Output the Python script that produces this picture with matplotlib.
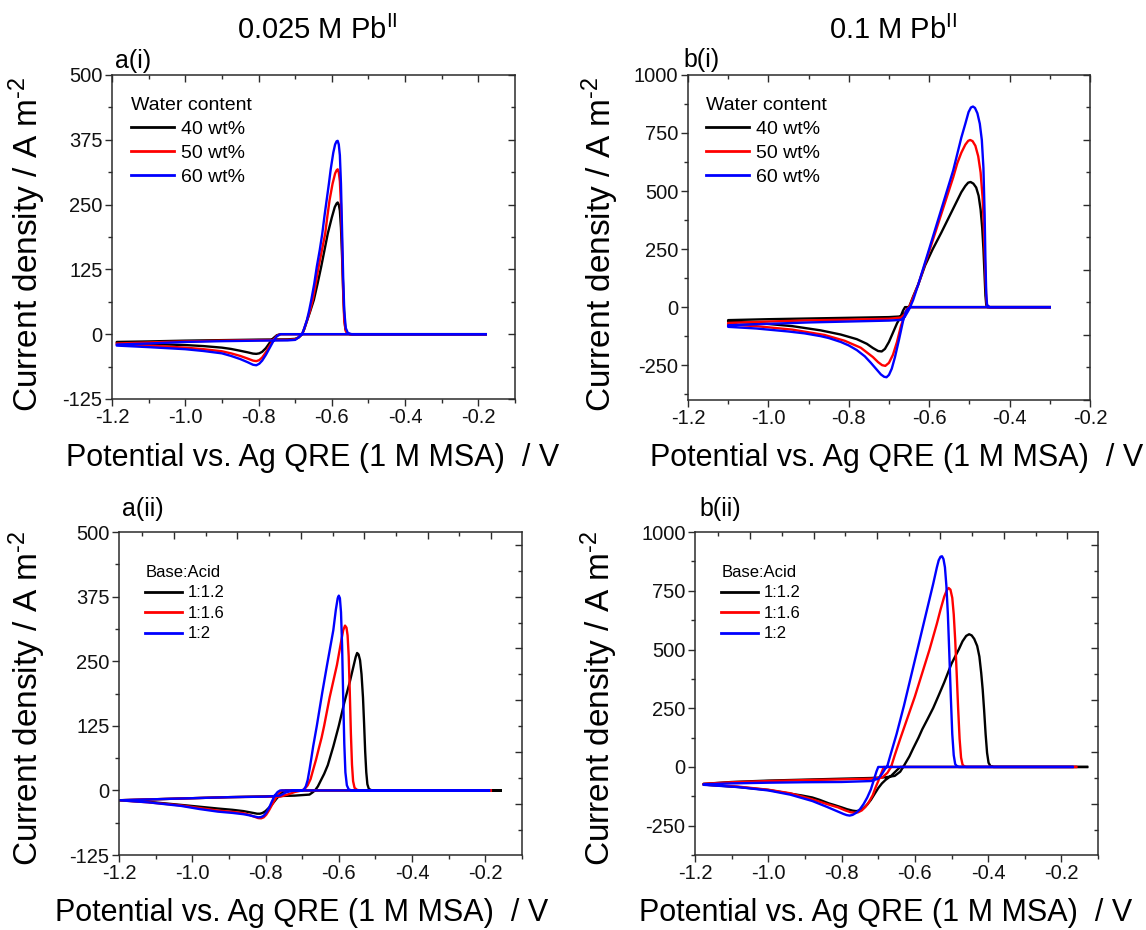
import numpy as np
import matplotlib.pyplot as plt
from matplotlib.ticker import MultipleLocator

plt.rcParams['font.family'] = ['Liberation Sans', 'DejaVu Sans']
plt.rcParams['mathtext.fontset'] = 'custom'
plt.rcParams['mathtext.rm'] = 'Liberation Sans'
plt.rcParams['mathtext.it'] = 'Liberation Sans:italic'
plt.rcParams['mathtext.bf'] = 'Liberation Sans:bold'
plt.rcParams['mathtext.default'] = 'regular'
plt.rcParams['axes.unicode_minus'] = False

# ---- data: potential (V) and current density (A m-2), in scan order ----

# a(i) 0.025 M Pb, water content
ai_E_40 = [-0.18, -0.74, -0.75, -0.76, -0.77, -0.78, -0.79, -0.798, -0.806, -0.815, -0.83, -0.85, -0.875,
           -0.90, -0.95, -1.00, -1.10, -1.187,
           -1.187, -1.10, -1.00, -0.90, -0.80, -0.72, -0.70, -0.69, -0.681, -0.675, -0.668, -0.659, -0.649,
           -0.639, -0.629, -0.62, -0.611, -0.60, -0.592, -0.587, -0.584, -0.581, -0.578, -0.575, -0.572,
           -0.569, -0.566, -0.563, -0.558, -0.55, -0.18]
ai_j_40 = [0, 0, -2, -8, -17, -27, -34, -37, -38, -37.5, -35, -32, -28.5,
           -26, -23, -21, -19, -17,
           -15, -14, -12.5, -11.5, -10.5, -10, -9, -6, 0, 10, 25, 44, 66,
           97, 130, 162, 194, 225, 245, 252, 254, 250, 238, 205, 150,
           85, 35, 10, 2, 0, 0]
ai_E_50 = [-0.18, -0.74, -0.75, -0.76, -0.77, -0.78, -0.79, -0.798, -0.806, -0.815, -0.83, -0.85, -0.875,
           -0.90, -0.95, -1.00, -1.10, -1.187,
           -1.187, -1.10, -1.00, -0.90, -0.80, -0.72, -0.70, -0.69, -0.681, -0.675, -0.668, -0.66, -0.652,
           -0.644, -0.636, -0.627, -0.618, -0.612, -0.606, -0.598, -0.591, -0.587, -0.584, -0.581, -0.578,
           -0.575, -0.572, -0.569, -0.566, -0.562, -0.556, -0.55, -0.18]
ai_j_50 = [0, 0, -3, -12, -23, -35, -45, -50, -52, -51, -47, -42, -37,
           -33, -29, -26, -22, -20,
           -18, -16, -14, -12.5, -11.5, -11, -10, -6, 0, 11, 26, 44, 66,
           97, 130, 162, 194, 228, 259, 290, 310, 316, 318, 312, 295,
           250, 170, 80, 25, 6, 1, 0, 0]
ai_E_60 = [-0.18, -0.74, -0.75, -0.76, -0.77, -0.78, -0.79, -0.798, -0.806, -0.815, -0.83, -0.85, -0.875,
           -0.90, -0.95, -1.00, -1.10, -1.187,
           -1.187, -1.10, -1.00, -0.90, -0.80, -0.72, -0.70, -0.69, -0.681, -0.675, -0.668, -0.662, -0.656,
           -0.648, -0.641, -0.633, -0.626, -0.62, -0.614, -0.608, -0.603, -0.596, -0.591, -0.587, -0.584,
           -0.581, -0.578, -0.575, -0.572, -0.569, -0.566, -0.562, -0.556, -0.546, -0.18]
ai_j_60 = [0, 0, -4, -14, -27, -40, -51, -57, -60, -59, -54, -48, -42,
           -37, -32.5, -29, -25, -22,
           -20, -18, -15, -13.5, -12.5, -12, -11, -6, 0, 12, 27, 45, 66,
           97, 130, 162, 194, 228, 259, 290, 318, 350, 366, 372, 373,
           366, 345, 290, 200, 110, 45, 12, 2, 0, 0]

# b(i) 0.1 M Pb, water content
bi_E_40 = [-0.30, -0.66, -0.665, -0.672, -0.68, -0.69, -0.70, -0.71, -0.718, -0.727, -0.74, -0.755, -0.78,
           -0.82, -0.87, -0.94, -1.03, -1.10,
           -1.10, -1.00, -0.90, -0.80, -0.70, -0.67, -0.66, -0.65, -0.64, -0.627, -0.61, -0.591, -0.57,
           -0.55, -0.53, -0.52, -0.51, -0.503, -0.497, -0.49, -0.483, -0.477, -0.472, -0.468, -0.465,
           -0.462, -0.46, -0.458, -0.455, -0.30]
bi_j_40 = [0, 0, -15, -45, -70, -110, -150, -180, -191, -189, -176, -158, -138,
           -118, -100, -82, -68, -62,
           -56, -52, -49, -46, -43, -40, -25, 0, 45, 98, 180, 250, 320,
           390, 460, 495, 522, 536, 539, 532, 515, 480, 420, 340, 250,
           130, 50, 10, 0, 0]
bi_E_50 = [-0.30, -0.65, -0.656, -0.662, -0.67, -0.68, -0.69, -0.70, -0.709, -0.717, -0.727, -0.74, -0.77,
           -0.81, -0.86, -0.94, -1.03, -1.10,
           -1.10, -1.00, -0.90, -0.80, -0.70, -0.67, -0.655, -0.645, -0.627, -0.60, -0.57, -0.54, -0.53,
           -0.52, -0.51, -0.503, -0.498, -0.492, -0.485, -0.478, -0.472, -0.467, -0.463, -0.46, -0.458,
           -0.456, -0.45, -0.30]
bi_j_50 = [0, 0, -10, -40, -80, -150, -205, -240, -253, -250, -237, -215, -175,
           -145, -120, -97, -82, -75,
           -68, -62, -57, -54, -50, -45, -20, 20, 98, 240, 400, 560, 620,
           665, 700, 716, 720, 715, 695, 650, 580, 470, 300, 130, 40,
           5, 0, 0]
bi_E_60 = [-0.30, -0.645, -0.652, -0.658, -0.665, -0.675, -0.685, -0.693, -0.70, -0.706, -0.712, -0.72,
           -0.73, -0.745, -0.76, -0.78, -0.80, -0.82, -0.85, -0.87, -0.91, -0.95, -1.03, -1.10,
           -1.10, -1.00, -0.90, -0.80, -0.70, -0.67, -0.66, -0.65, -0.64, -0.627, -0.60, -0.57, -0.54,
           -0.53, -0.52, -0.51, -0.502, -0.496, -0.491, -0.486, -0.48, -0.474, -0.469, -0.465, -0.462,
           -0.46, -0.458, -0.456, -0.45, -0.30]
bi_j_60 = [0, 0, -5, -20, -60, -140, -215, -265, -292, -302, -300, -290,
           -270, -240, -212, -185, -165, -150, -133, -125, -113, -105, -92, -85,
           -78, -72, -66, -62, -58, -55, -40, -10, 30, 98, 250, 420, 590,
           660, 730, 790, 840, 860, 864, 858, 835, 790, 720, 600, 400,
           200, 60, 10, 0, 0]

# a(ii) 0.025 M Pb, base:acid ratio
aii_E_12 = [-0.158, -0.745, -0.752, -0.76, -0.77, -0.78, -0.79, -0.80, -0.808, -0.815, -0.823, -0.83, -0.845,
            -0.86, -0.89, -0.93, -0.98, -1.03, -1.12, -1.20,
            -1.20, -1.10, -1.00, -0.90, -0.80, -0.72, -0.68, -0.672, -0.665, -0.657, -0.65, -0.64, -0.63,
            -0.615, -0.60, -0.585, -0.57, -0.56, -0.554, -0.55, -0.546, -0.542, -0.538, -0.534, -0.531,
            -0.528, -0.525, -0.522, -0.518, -0.51, -0.158]
aii_j_12 = [0, 0, -3, -8, -16, -25, -33, -40, -43.5, -45, -45, -44, -42,
            -40, -37.5, -35, -31.5, -28, -22, -19,
            -19, -17, -15, -13, -11.5, -10, -8, -4, 0, 8, 18, 32, 49,
            85, 125, 170, 210, 240, 258, 266, 263, 252, 225, 180, 130,
            75, 35, 12, 3, 0, 0]
aii_E_16 = [-0.185, -0.755, -0.762, -0.77, -0.78, -0.79, -0.798, -0.805, -0.812, -0.82, -0.83, -0.845,
            -0.86, -0.89, -0.93, -0.98, -1.03, -1.12, -1.20,
            -1.20, -1.10, -1.00, -0.90, -0.80, -0.76, -0.74, -0.72, -0.70, -0.692, -0.685, -0.677, -0.67,
            -0.662, -0.655, -0.647, -0.64, -0.625, -0.605, -0.595, -0.588, -0.583, -0.579, -0.576, -0.573,
            -0.57, -0.567, -0.564, -0.561, -0.557, -0.55, -0.54, -0.185]
aii_j_16 = [0, 0, -4, -12, -25, -38, -47, -52, -54, -53.5, -51, -47,
            -44, -41.5, -39, -34, -29, -23, -19,
            -19, -17, -15, -13, -12, -12, -8, -3, 0, 4, 10, 22, 40,
            60, 80, 102, 125, 180, 243, 283, 310, 319, 315, 300, 260,
            190, 110, 50, 18, 5, 1, 0, 0]
aii_E_20 = [-0.19, -0.76, -0.767, -0.775, -0.783, -0.79, -0.798, -0.805, -0.812, -0.82, -0.83, -0.845,
            -0.86, -0.89, -0.93, -0.98, -1.03, -1.12, -1.20,
            -1.20, -1.10, -1.00, -0.90, -0.80, -0.76, -0.745, -0.73, -0.70, -0.695, -0.69, -0.685, -0.68,
            -0.675, -0.67, -0.66, -0.645, -0.632, -0.615, -0.608, -0.603, -0.600, -0.597, -0.594, -0.591,
            -0.588, -0.585, -0.582, -0.578, -0.573, -0.565, -0.19]
aii_j_20 = [0, 0, -3, -10, -22, -33, -43, -49, -51.5, -52, -50.5, -48,
            -46, -43.5, -41, -36, -30, -23, -19,
            -19, -17, -15, -13, -12, -10, -4, -1, 0, 2, 8, 20, 40,
            62, 85, 125, 190, 243, 310, 350, 372, 377, 372, 345, 280,
            180, 90, 35, 10, 2, 0, 0]

# b(ii) 0.1 M Pb, base:acid ratio
bii_E_12 = [-0.13, -0.64, -0.65, -0.665, -0.68, -0.69, -0.70, -0.71, -0.72, -0.73, -0.74, -0.75, -0.76,
            -0.77, -0.785, -0.80, -0.82, -0.835, -0.86, -0.88, -0.91, -0.935, -1.00, -1.085, -1.177,
            -1.177, -1.10, -1.00, -0.90, -0.80, -0.72, -0.68, -0.655, -0.64, -0.63, -0.615, -0.605, -0.59,
            -0.58, -0.565, -0.55, -0.535, -0.52, -0.50, -0.48, -0.47, -0.46, -0.452, -0.445, -0.438,
            -0.43, -0.424, -0.419, -0.415, -0.411, -0.407, -0.403, -0.399, -0.394, -0.385, -0.13]
bii_j_12 = [0, 0, -15, -38, -55, -70, -90, -115, -140, -160, -175, -185, -188,
            -186, -180, -172, -162, -155, -140, -130, -121, -115, -98, -85, -75,
            -72, -64, -58, -54, -50, -47, -44, -38, -20, 5, 45, 78, 125,
            160, 205, 251, 305, 360, 440, 501, 535, 558, 565, 560, 545,
            515, 470, 400, 330, 240, 140, 60, 18, 4, 0, 0]
bii_E_16 = [-0.16, -0.685, -0.69, -0.695, -0.70, -0.708, -0.715, -0.725, -0.735, -0.745, -0.755, -0.765,
            -0.775, -0.79, -0.81, -0.84, -0.88, -0.94, -1.00, -1.08, -1.177,
            -1.177, -1.10, -1.00, -0.90, -0.80, -0.72, -0.69, -0.675, -0.665, -0.655, -0.64, -0.62, -0.60,
            -0.58, -0.56, -0.54, -0.53, -0.52, -0.513, -0.508, -0.503, -0.498, -0.494, -0.49, -0.486,
            -0.482, -0.478, -0.474, -0.47, -0.465, -0.46, -0.16]
bii_j_16 = [0, 0, -20, -40, -60, -90, -120, -148, -170, -185, -193, -195,
            -193, -185, -172, -158, -138, -112, -97, -84, -75,
            -72, -65, -60, -56, -53, -50, -46, -25, 0, 50, 120, 210, 300,
            400, 500, 610, 670, 725, 752, 762, 755, 720, 650, 540, 400,
            250, 120, 40, 10, 2, 0, 0]
bii_E_20 = [-0.17, -0.70, -0.705, -0.71, -0.715, -0.72, -0.73, -0.74, -0.75, -0.76, -0.77, -0.778, -0.786,
            -0.795, -0.81, -0.84, -0.88, -0.94, -1.00, -1.08, -1.177,
            -1.177, -1.10, -1.00, -0.90, -0.80, -0.72, -0.70, -0.69, -0.68, -0.676, -0.665, -0.65, -0.63,
            -0.61, -0.59, -0.57, -0.55, -0.54, -0.535, -0.53, -0.526, -0.522, -0.518, -0.514, -0.51,
            -0.506, -0.502, -0.498, -0.494, -0.49, -0.485, -0.48, -0.17]
bii_j_20 = [0, 0, -20, -45, -70, -95, -130, -158, -180, -195, -204, -207, -205,
            -200, -190, -170, -145, -118, -100, -86, -76,
            -74, -70, -67, -65, -64, -60, -50, -30, -5, 0, 60, 140, 260,
            390, 520, 650, 780, 850, 880, 895, 897, 885, 850, 770, 650,
            480, 300, 140, 50, 12, 3, 0, 0]

water_labels = ['40 wt%', '50 wt%', '60 wt%']
ratio_labels = ['1:1.2', '1:1.6', '1:2']
colors = ['#000000', '#ff0000', '#0000ff']
col_titles = ['0.025 M Pb$^{II}$', '0.1 M Pb$^{II}$']

EDGE = '#2b2b2b'
XLABEL = 'Potential vs. Ag QRE (1 M MSA)  / V'
YLABEL = 'Current density / A m$^{\\text{-2}}$'

fig = plt.figure(figsize=(11.46, 9.30), dpi=100)


def panel(rect, xlim, ylim, ymajor, curves, labels, leg_title, leg_fs, leg_xy,
          tag, tag_xy, ylab_xy, xlab_xy, top_ticks, right_ticks):
    ax = fig.add_axes(rect)
    for (E, j), c, lab in zip(curves, colors, labels):
        ax.plot(E, j, color=c, lw=1.7, label=lab, solid_joinstyle='round')
    ax.set_xlim(*xlim)
    ax.set_ylim(*ylim)
    ax.xaxis.set_major_locator(MultipleLocator(0.2))
    ax.xaxis.set_minor_locator(MultipleLocator(0.1))
    ax.yaxis.set_major_locator(MultipleLocator(ymajor))
    ax.yaxis.set_minor_locator(MultipleLocator(ymajor / 2))
    ax.tick_params(which='both', direction='out', top=False, right=False, colors=EDGE,
                   labelcolor='#111111', labelsize=14.5, width=1.0)
    ax.tick_params(which='major', length=4.8, pad=2)
    ax.tick_params(which='minor', length=2.6)
    for s in ax.spines.values():
        s.set_color(EDGE)
        s.set_linewidth(1.1)

    ax.set_xlabel(XLABEL, fontsize=22, va='center')
    ax.xaxis.set_label_coords(*xlab_xy)
    ax.set_ylabel(YLABEL, fontsize=24, va='center')
    ax.yaxis.set_label_coords(*ylab_xy)
    ax.text(tag_xy[0], tag_xy[1], tag, transform=ax.transAxes, fontsize=18,
            ha='left', va='center')

    leg = ax.legend(title=leg_title, loc='upper left', bbox_to_anchor=leg_xy, frameon=False,
                    fontsize=leg_fs, title_fontsize=leg_fs, alignment='left',
                    handlelength=2.2, handletextpad=0.35, labelspacing=0.33,
                    borderpad=0, borderaxespad=0)
    for h in leg.get_lines():
        h.set_linewidth(2.0)

    # top and right frame ticks (pointing inwards, own spacing)
    ov = fig.add_axes(rect, label=tag + '_frame')
    ov.patch.set_visible(False)
    for s in ov.spines.values():
        s.set_visible(False)
    ov.set_xlim(0, 1)
    ov.set_ylim(0, 1)
    ov.xaxis.tick_top()
    ov.yaxis.tick_right()
    ov.set_xticks(top_ticks[0])
    ov.set_xticks(top_ticks[1], minor=True)
    ov.set_yticks(right_ticks[0])
    ov.set_yticks(right_ticks[1], minor=True)
    ov.tick_params(which='both', direction='in', labeltop=False, labelright=False,
                   labelbottom=False, labelleft=False, colors=EDGE, width=1.0)
    ov.tick_params(which='major', length=4.8)
    ov.tick_params(which='minor', length=2.6)
    return ax


def frac_ticks(lo, hi, step_major, start, stop):
    major = np.arange(start, stop + 1e-9, step_major)
    minor = np.arange(start + step_major / 2, stop + 1e-9, step_major)
    return [(major - lo) / (hi - lo), (minor - lo) / (hi - lo)]


# frame ticks of the top row follow a -1.2..-0.2 / -125..500 scale
top_a = frac_ticks(-1.2, -0.1, 0.2, -1.2, -0.2)
top_b = frac_ticks(-1.2, -0.2, 0.2, -1.2, -0.2)
right_top = frac_ticks(-125, 500, 125, -125, 500)
# frame ticks of the bottom row sit on their own spacing
top_low = [0.9235 - 0.1574 * np.arange(6), 0.9235 - 0.0787 - 0.1574 * np.arange(6)]
right_low = [0.9605 - 0.1605 * np.arange(6), 0.8803 - 0.1605 * np.arange(6)]

panel([0.0977, 0.5710, 0.3517, 0.3484], (-1.2, -0.1), (-125, 500), 125,
      [(ai_E_40, ai_j_40), (ai_E_50, ai_j_50), (ai_E_60, ai_j_60)], water_labels,
      'Water content', 14, (0.048, 0.932), 'a(i)', (0.008, 1.043),
      (-0.211, 0.478), (0.499, -0.182), top_a, right_top)

panel([0.6003, 0.5699, 0.3508, 0.3495], (-1.2, -0.2), (-400, 1000), 250,
      [(bi_E_40, bi_j_40), (bi_E_50, bi_j_50), (bi_E_60, bi_j_60)], water_labels,
      'Water content', 14, (0.045, 0.932), 'b(i)', (-0.01, 1.046),
      (-0.219, 0.478), (0.52, -0.18), top_b, right_top)

panel([0.1038, 0.0806, 0.3517, 0.3473], (-1.2, -0.1), (-125, 500), 125,
      [(aii_E_12, aii_j_12), (aii_E_16, aii_j_16), (aii_E_20, aii_j_20)], ratio_labels,
      'Base:Acid', 12, (0.065, 0.898), 'a(ii)', (0.007, 1.071),
      (-0.228, 0.486), (0.452, -0.18), top_low, right_low)

panel([0.6065, 0.0806, 0.3517, 0.3473], (-1.2, -0.1), (-375, 1000), 250,
      [(bii_E_12, bii_j_12), (bii_E_16, bii_j_16), (bii_E_20, bii_j_20)], ratio_labels,
      'Base:Acid', 12, (0.065, 0.898), 'b(ii)', (0.01, 1.071),
      (-0.238, 0.486), (0.474, -0.18), top_low, right_low)

fig.text(317 / 1146, 1 - 30 / 930, col_titles[0], fontsize=21, ha='center', va='center')
fig.text(893 / 1146, 1 - 30 / 930, col_titles[1], fontsize=21, ha='center', va='center')

fig.savefig('out.png', dpi=100)
